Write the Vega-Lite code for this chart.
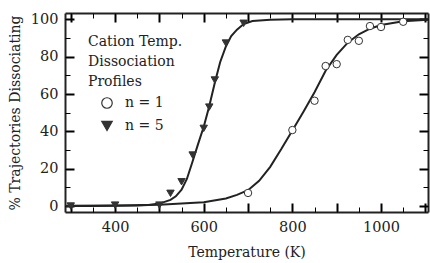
{
  "$schema": "https://vega.github.io/schema/vega-lite/v6.json",
  "width": 363,
  "height": 199,
  "autosize": {"type": "none"},
  "padding": {"left": 65, "top": 13, "right": 2, "bottom": 51},
  "config": {
    "view": {"stroke": null},
    "axis": {
      "labelFontSize": 14.5, "titleFontSize": 14, "titleFontWeight": "normal",
      "labelColor": "#222", "titleColor": "#222", "domainColor": "#222", "domainWidth": 2,
      "grid": false, "labelFont": "DejaVu Serif", "titleFont": "DejaVu Serif"
    },
    "legend": {"labelFont": "DejaVu Serif", "titleFont": "DejaVu Serif"}
  },
  "datasets": {
    "curve5": [
      {"T": 290, "pct": 0}, {"T": 350, "pct": 0}, {"T": 400, "pct": 0.1}, {"T": 450, "pct": 0.3}, {"T": 475, "pct": 0.6},
      {"T": 500, "pct": 1.3}, {"T": 525, "pct": 3.3}, {"T": 537, "pct": 5.2}, {"T": 550, "pct": 8.7}, {"T": 562, "pct": 14.5},
      {"T": 575, "pct": 24}, {"T": 587, "pct": 33}, {"T": 600, "pct": 42.5}, {"T": 612, "pct": 53}, {"T": 625, "pct": 66},
      {"T": 637, "pct": 77}, {"T": 650, "pct": 85.5}, {"T": 662, "pct": 91}, {"T": 675, "pct": 94.5}, {"T": 690, "pct": 97.5},
      {"T": 710, "pct": 99.1}, {"T": 750, "pct": 99.8}, {"T": 800, "pct": 100}, {"T": 900, "pct": 100}, {"T": 1000, "pct": 100},
      {"T": 1106, "pct": 100}
    ],
    "curve1": [
      {"T": 290, "pct": 0.1}, {"T": 400, "pct": 0.3}, {"T": 500, "pct": 0.7}, {"T": 600, "pct": 2}, {"T": 650, "pct": 4},
      {"T": 675, "pct": 6}, {"T": 700, "pct": 8.5}, {"T": 725, "pct": 13.5}, {"T": 750, "pct": 21}, {"T": 775, "pct": 30.5},
      {"T": 800, "pct": 40.5}, {"T": 825, "pct": 50.5}, {"T": 850, "pct": 61}, {"T": 875, "pct": 72.5}, {"T": 900, "pct": 81},
      {"T": 925, "pct": 87.5}, {"T": 950, "pct": 92}, {"T": 975, "pct": 95}, {"T": 1000, "pct": 97}, {"T": 1050, "pct": 99},
      {"T": 1106, "pct": 99.8}
    ],
    "points5": [
      {"n": "n = 5", "T": 300, "pct": 0}, {"n": "n = 5", "T": 400, "pct": 0.5}, {"n": "n = 5", "T": 500, "pct": 0.5},
      {"n": "n = 5", "T": 525, "pct": 6.8}, {"n": "n = 5", "T": 550, "pct": 13}, {"n": "n = 5", "T": 575, "pct": 27.3},
      {"n": "n = 5", "T": 600, "pct": 41.6}, {"n": "n = 5", "T": 612.5, "pct": 53}, {"n": "n = 5", "T": 625, "pct": 67.5},
      {"n": "n = 5", "T": 650, "pct": 87.3}, {"n": "n = 5", "T": 690, "pct": 97.9}
    ],
    "points1": [
      {"n": "n = 1", "T": 700, "pct": 7}, {"n": "n = 1", "T": 800, "pct": 40.7}, {"n": "n = 1", "T": 850, "pct": 56.4},
      {"n": "n = 1", "T": 875, "pct": 75}, {"n": "n = 1", "T": 900, "pct": 76}, {"n": "n = 1", "T": 925, "pct": 89},
      {"n": "n = 1", "T": 950, "pct": 88.5}, {"n": "n = 1", "T": 975, "pct": 96.4}, {"n": "n = 1", "T": 1000, "pct": 95.9},
      {"n": "n = 1", "T": 1050, "pct": 98.7}
    ]
  },
  "layer": [
    {
      "data": {"name": "curve5"},
      "mark": {"type": "line", "color": "#222", "strokeWidth": 2, "clip": true},
      "encoding": {
        "x": {
          "field": "T", "type": "quantitative",
          "scale": {"domain": [287, 1106], "nice": false, "zero": false},
          "axis": {"orient": "bottom", "title": "Temperature (K)", "format": "d",
            "labelExpr": "datum.value % 200 === 0 ? datum.label : ''",
            "tickSize": -9, "tickColor": "black", "tickWidth": 2, "labelPadding": 17, "titlePadding": 12}
        },
        "y": {
          "field": "pct", "type": "quantitative",
          "scale": {"domain": [-3.2, 103.4], "nice": false, "zero": false},
          "axis": {"orient": "left", "title": "% Trajectories Dissociating",
            "tickSize": -9, "tickColor": "black", "tickWidth": 2, "labelPadding": 16, "titlePadding": 8}
        }
      }
    },
    {
      "data": {"name": "curve1"},
      "mark": {"type": "line", "color": "#222", "strokeWidth": 2, "clip": true},
      "encoding": {
        "x": {
          "field": "T", "type": "quantitative",
          "axis": {"orient": "top", "title": null, "labels": false,
            "tickSize": -9, "tickColor": "black", "tickWidth": 2}
        },
        "y": {
          "field": "pct", "type": "quantitative",
          "axis": {"orient": "right", "title": null, "labels": false,
            "tickSize": -9, "tickColor": "black", "tickWidth": 2}
        }
      }
    },
    {
      "data": {"name": "points5"},
      "mark": {"type": "point", "strokeWidth": 1, "size": 55, "opacity": 1, "fillOpacity": 1},
      "encoding": {
        "x": {
          "field": "T", "type": "quantitative",
          "axis": {"orient": "bottom", "title": null, "labels": false, "domain": false, "tickCount": 17,
            "tickSize": -5, "tickColor": "black", "tickWidth": 1}
        },
        "y": {
          "field": "pct", "type": "quantitative",
          "axis": {"orient": "left", "title": null, "labels": false, "domain": false, "tickCount": 10,
            "tickSize": -5, "tickColor": "black", "tickWidth": 1}
        },
        "shape": {
          "field": "n", "type": "nominal",
          "scale": {"domain": ["n = 1", "n = 5"], "range": ["circle", "triangle-down"]},
          "legend": {
            "orient": "none", "legendX": 23, "legendY": 22,
            "title": ["Cation Temp.", "Dissociation", "Profiles"],
            "titleFontSize": 14, "titleFontWeight": "normal", "titleLineHeight": 20, "titleColor": "#222",
            "labelFontSize": 14, "labelColor": "#222", "symbolSize": 110, "symbolOffset": 12, "labelOffset": 11,
            "titlePadding": 7, "rowPadding": 8, "symbolStrokeWidth": 1.2
          }
        },
        "fill": {
          "field": "n", "type": "nominal",
          "scale": {"domain": ["n = 1", "n = 5"], "range": ["white", "#333"]},
          "legend": {
            "orient": "none", "legendX": 23, "legendY": 22,
            "title": ["Cation Temp.", "Dissociation", "Profiles"],
            "titleFontSize": 14, "titleFontWeight": "normal", "titleLineHeight": 20, "titleColor": "#222",
            "labelFontSize": 14, "labelColor": "#222", "symbolSize": 110, "symbolOffset": 12, "labelOffset": 11,
            "titlePadding": 7, "rowPadding": 8, "symbolStrokeWidth": 1.2
          }
        },
        "stroke": {
          "field": "n", "type": "nominal",
          "scale": {"domain": ["n = 1", "n = 5"], "range": ["#333", "#333"]},
          "legend": {
            "orient": "none", "legendX": 23, "legendY": 22,
            "title": ["Cation Temp.", "Dissociation", "Profiles"],
            "titleFontSize": 14, "titleFontWeight": "normal", "titleLineHeight": 20, "titleColor": "#222",
            "labelFontSize": 14, "labelColor": "#222", "symbolSize": 110, "symbolOffset": 12, "labelOffset": 11,
            "titlePadding": 7, "rowPadding": 8, "symbolStrokeWidth": 1.2
          }
        }
      }
    },
    {
      "data": {"name": "points1"},
      "mark": {"type": "point", "strokeWidth": 1, "size": 55, "opacity": 1, "fillOpacity": 1},
      "encoding": {
        "x": {
          "field": "T", "type": "quantitative",
          "axis": {"orient": "top", "title": null, "labels": false, "domain": false, "tickCount": 17,
            "tickSize": -5, "tickColor": "black", "tickWidth": 1}
        },
        "y": {
          "field": "pct", "type": "quantitative",
          "axis": {"orient": "right", "title": null, "labels": false, "domain": false, "tickCount": 10,
            "tickSize": -5, "tickColor": "black", "tickWidth": 1}
        },
        "shape": {
          "field": "n", "type": "nominal",
          "legend": {
            "orient": "none", "legendX": 23, "legendY": 22,
            "title": ["Cation Temp.", "Dissociation", "Profiles"],
            "titleFontSize": 14, "titleFontWeight": "normal", "titleLineHeight": 20, "titleColor": "#222",
            "labelFontSize": 14, "labelColor": "#222", "symbolSize": 110, "symbolOffset": 12, "labelOffset": 11,
            "titlePadding": 7, "rowPadding": 8, "symbolStrokeWidth": 1.2
          }
        },
        "fill": {
          "field": "n", "type": "nominal",
          "legend": {
            "orient": "none", "legendX": 23, "legendY": 22,
            "title": ["Cation Temp.", "Dissociation", "Profiles"],
            "titleFontSize": 14, "titleFontWeight": "normal", "titleLineHeight": 20, "titleColor": "#222",
            "labelFontSize": 14, "labelColor": "#222", "symbolSize": 110, "symbolOffset": 12, "labelOffset": 11,
            "titlePadding": 7, "rowPadding": 8, "symbolStrokeWidth": 1.2
          }
        },
        "stroke": {
          "field": "n", "type": "nominal",
          "legend": {
            "orient": "none", "legendX": 23, "legendY": 22,
            "title": ["Cation Temp.", "Dissociation", "Profiles"],
            "titleFontSize": 14, "titleFontWeight": "normal", "titleLineHeight": 20, "titleColor": "#222",
            "labelFontSize": 14, "labelColor": "#222", "symbolSize": 110, "symbolOffset": 12, "labelOffset": 11,
            "titlePadding": 7, "rowPadding": 8, "symbolStrokeWidth": 1.2
          }
        }
      }
    }
  ],
  "resolve": {"axis": {"x": "independent", "y": "independent"}}
}
